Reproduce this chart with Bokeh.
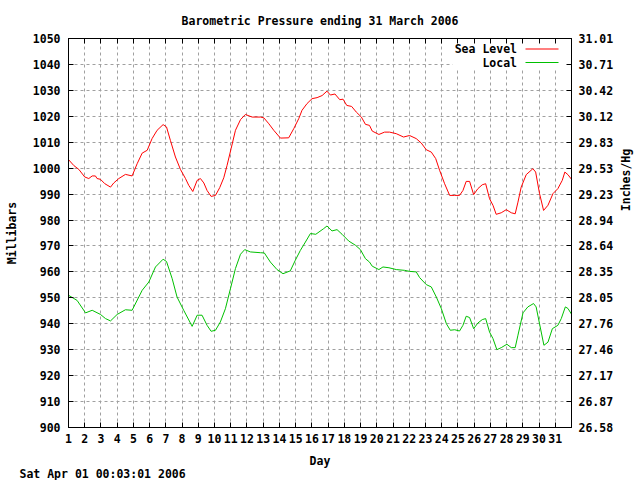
import math
from bokeh.plotting import figure
from bokeh.layouts import row
from bokeh.models import Range1d, LinearAxis, FixedTicker, Label, BoxAnnotation, Title
from bokeh.embed import file_html
from bokeh.resources import INLINE

FONT = "DejaVu Sans Mono"
FS = "11.5px"

title_text = "Barometric Pressure ending 31 March 2006"
footer_text = "Sat Apr 01 00:03:01 2006"
x_label = "Day"
y_label = "Millibars"
y2_label = "Inches/Hg"
series_names = ["Sea Level", "Local"]
series_colors = ["#ff0000", "#00c000"]

sea_days = [1.0, 1.33, 1.64, 2.0, 2.25, 2.46, 2.66, 2.76, 2.97, 3.24, 3.59, 3.79, 4.10, 4.51,
            4.92, 5.23, 5.54, 5.85, 6.15, 6.46, 6.83, 7.04, 7.28, 7.59, 7.90, 8.21, 8.41, 8.66,
            8.93, 9.13, 9.34, 9.54, 9.79, 10.06, 10.32, 10.57, 10.77, 11.02, 11.29, 11.60, 11.90,
            12.32, 12.83, 13.04, 13.35, 13.65, 14.06, 14.57, 14.88, 15.19, 15.39, 15.70, 16.01,
            16.32, 16.63, 16.93, 17.14, 17.42, 17.72, 17.92, 18.15, 18.45, 18.74, 19.05, 19.30,
            19.55, 19.72, 20.13, 20.48, 20.79, 21.20, 21.65, 22.02, 22.43, 22.74, 23.05, 23.36,
            23.63, 23.87, 24.18, 24.49, 24.80, 25.10, 25.31, 25.51, 25.72, 25.97, 26.23, 26.50,
            26.71, 26.95, 27.16, 27.36, 27.67, 27.98, 28.29, 28.53, 28.70, 28.90, 29.21, 29.62,
            29.79, 30.03, 30.28, 30.55, 30.86, 31.16, 31.43, 31.59, 31.78, 32.0]
sea_mb = [1003.3, 1001.0, 999.5, 996.6, 996.0, 997.0, 997.0, 996.0, 995.7, 994.0, 992.7, 994.3,
          996.0, 997.6, 997.0, 1001.7, 1005.8, 1006.9, 1011.4, 1014.6, 1016.8, 1015.9, 1010.7,
          1004.3, 999.5, 996.0, 993.4, 991.0, 995.3, 996.0, 994.3, 991.4, 989.1, 989.5, 992.5,
          996.3, 1001.0, 1007.5, 1014.6, 1018.7, 1020.7, 1019.7, 1019.7, 1019.4, 1017.1, 1014.6,
          1011.6, 1011.7, 1015.2, 1019.1, 1022.3, 1024.9, 1026.8, 1027.2, 1028.0, 1029.7, 1028.2,
          1028.6, 1026.4, 1026.6, 1024.2, 1023.8, 1021.6, 1019.7, 1016.9, 1016.5, 1014.3, 1013.0,
          1013.9, 1013.9, 1013.3, 1012.0, 1012.6, 1011.4, 1009.7, 1007.1, 1006.2, 1003.7, 999.2,
          994.0, 989.5, 989.5, 989.5, 991.4, 994.9, 994.9, 989.8, 992.1, 993.6, 994.0, 988.2,
          985.7, 982.2, 982.8, 984.0, 982.8, 982.4, 986.9, 992.7, 997.5, 999.8, 998.5, 990.2,
          983.7, 985.7, 990.2, 992.1, 995.3, 998.5, 997.5, 995.7]

local_days = [1.0, 1.53, 2.05, 2.46, 2.97, 3.28, 3.59, 4.0, 4.51, 4.92, 5.54, 5.95, 6.36, 6.83,
              7.04, 7.39, 7.69, 8.10, 8.62, 8.93, 9.23, 9.54, 9.79, 10.06, 10.36, 10.67, 10.98,
              11.29, 11.60, 11.86, 12.21, 12.83, 13.07, 13.44, 13.85, 14.22, 14.67, 14.98, 15.29,
              15.60, 15.91, 16.24, 16.73, 16.93, 17.24, 17.55, 17.86, 18.27, 18.68, 18.99, 19.30,
              19.55, 19.72, 20.13, 20.38, 20.75, 21.20, 21.72, 22.02, 22.43, 22.64, 23.05, 23.36,
              23.67, 23.98, 24.29, 24.53, 24.80, 25.10, 25.31, 25.51, 25.72, 25.97, 26.23, 26.50,
              26.71, 26.95, 27.16, 27.40, 27.67, 28.02, 28.29, 28.53, 28.70, 29.01, 29.31, 29.66,
              29.82, 30.03, 30.30, 30.55, 30.82, 31.16, 31.37, 31.62, 31.78, 32.0]
local_mb = [951.0, 949.0, 944.2, 945.2, 943.6, 942.0, 941.1, 943.6, 945.4, 945.2, 952.9, 956.1,
            961.9, 964.9, 964.0, 957.4, 950.3, 945.2, 939.0, 943.3, 943.3, 939.4, 937.1, 937.5,
            940.7, 945.8, 953.5, 961.3, 966.8, 968.6, 967.7, 967.4, 967.3, 963.8, 960.9, 959.3,
            960.4, 964.5, 968.3, 971.5, 974.8, 974.5, 976.7, 977.7, 975.8, 976.3, 974.5, 971.9,
            970.3, 968.6, 965.1, 963.8, 962.2, 960.9, 961.9, 961.6, 960.9, 960.6, 960.2, 960.0,
            957.8, 955.1, 954.2, 950.3, 945.8, 940.0, 937.5, 937.7, 937.2, 939.4, 942.9, 942.4,
            938.1, 940.3, 941.6, 942.0, 936.8, 934.3, 930.0, 930.8, 932.1, 930.8, 930.8, 935.6,
            944.2, 946.5, 947.8, 946.5, 940.0, 931.7, 932.9, 938.1, 939.4, 942.0, 946.5, 945.9,
            943.7]

day_ticks = list(range(1, 32))
mb_ticks = list(range(900, 1051, 10))
inch_labels = ["26.58", "26.87", "27.17", "27.46", "27.76", "28.05", "28.35", "28.64",
               "28.94", "29.23", "29.53", "29.83", "30.12", "30.42", "30.71", "31.01"]

W, H = 616, 480
p = figure(width=W, height=H, output_backend="svg", toolbar_location=None,
           x_range=Range1d(1, 32), y_range=Range1d(900, 1050),
           min_border_left=68, min_border_right=45, min_border_top=38, min_border_bottom=53)
p.background_fill_color = "white"
p.border_fill_color = "white"
p.outline_line_color = "black"

p.title.text = title_text
p.title.align = "center"
p.title.text_font = FONT
p.title.text_font_size = FS
p.title.text_font_style = "bold"
p.title.text_color = "black"
p.title.standoff = 21


def style_axis(ax, standoff):
    ax.axis_line_color = "black"
    ax.axis_line_width = 1
    ax.major_tick_in = 5
    ax.major_tick_out = 0
    ax.major_tick_line_color = "black"
    ax.minor_tick_line_color = None
    ax.major_label_text_font = FONT
    ax.major_label_text_font_size = FS
    ax.major_label_text_font_style = "bold"
    ax.major_label_text_color = "black"
    ax.major_label_standoff = standoff
    ax.axis_label_text_font = FONT
    ax.axis_label_text_font_size = FS
    ax.axis_label_text_font_style = "bold"
    ax.axis_label_text_color = "black"


xa = p.xaxis[0]
xa.ticker = FixedTicker(ticks=day_ticks)
style_axis(xa, 6)
xa.axis_label = x_label
xa.axis_label_standoff = 8

ya = p.yaxis[0]
ya.ticker = FixedTicker(ticks=mb_ticks)
style_axis(ya, 8)
ya.axis_label = y_label
ya.axis_label_standoff = 11

ra = LinearAxis(ticker=FixedTicker(ticks=mb_ticks),
                major_label_overrides={t: s for t, s in zip(mb_ticks, inch_labels)})
style_axis(ra, 7)
p.add_layout(ra, "right")

ta = LinearAxis(ticker=FixedTicker(ticks=day_ticks),
                major_label_overrides={t: "" for t in day_ticks})
style_axis(ta, 0)
ta.major_label_text_font_size = "0px"
p.add_layout(ta, "above")

footer = Title(text=footer_text, align="left", offset=-49, standoff=-7,
               vertical_align="top",
               text_font=FONT, text_font_size=FS, text_font_style="bold",
               text_color="black")
p.add_layout(footer, "below")

p.xgrid.ticker = FixedTicker(ticks=day_ticks)
p.ygrid.ticker = FixedTicker(ticks=mb_ticks)
for g in (p.xgrid[0], p.ygrid[0]):
    g.grid_line_color = "#a0a0a0"
    g.grid_line_dash = "3 3"
    g.grid_line_width = 1

# legend background (clears grid like the original key box)
p.add_layout(BoxAnnotation(left=384, right=503, top=389, bottom=358,
                           left_units="screen", right_units="screen",
                           top_units="screen", bottom_units="screen",
                           fill_color="white", fill_alpha=1.0, line_color=None,
                           level="underlay"))

p.line(sea_days, sea_mb, line_color=series_colors[0], line_width=1)
p.line(local_days, local_mb, line_color=series_colors[1], line_width=1)

leg_y = [378.5, 365.0]
for name, col, yy in zip(series_names, series_colors, leg_y):
    p.add_layout(Label(x=448.5, y=yy, x_units="screen", y_units="screen", text=name,
                       text_align="right", text_baseline="middle", text_font=FONT,
                       text_font_size=FS, text_font_style="bold", text_color="black"))
    p.add_layout(BoxAnnotation(left=457, right=490, top=yy + 0.5, bottom=yy - 0.5,
                               left_units="screen", right_units="screen",
                               top_units="screen", bottom_units="screen",
                               fill_color=col, fill_alpha=1.0, line_color=None))

# narrow strip on the right carrying the right-hand axis title
p2 = figure(width=640 - W, height=H, output_backend="svg", toolbar_location=None,
            x_range=Range1d(0, 1), y_range=Range1d(0, 1),
            x_axis_location=None, y_axis_location=None, min_border=0)
p2.grid.visible = False
p2.outline_line_color = None
p2.background_fill_color = "white"
p2.border_fill_color = "white"
p2.add_layout(Label(x=9.5, y=H - 232.5, x_units="screen", y_units="screen", text=y2_label,
                    angle=math.pi / 2, text_align="center", text_baseline="middle",
                    text_font=FONT, text_font_size=FS, text_font_style="bold",
                    text_color="black"))

layout = row(p, p2)
open("out.html", "w").write(file_html(layout, INLINE))
